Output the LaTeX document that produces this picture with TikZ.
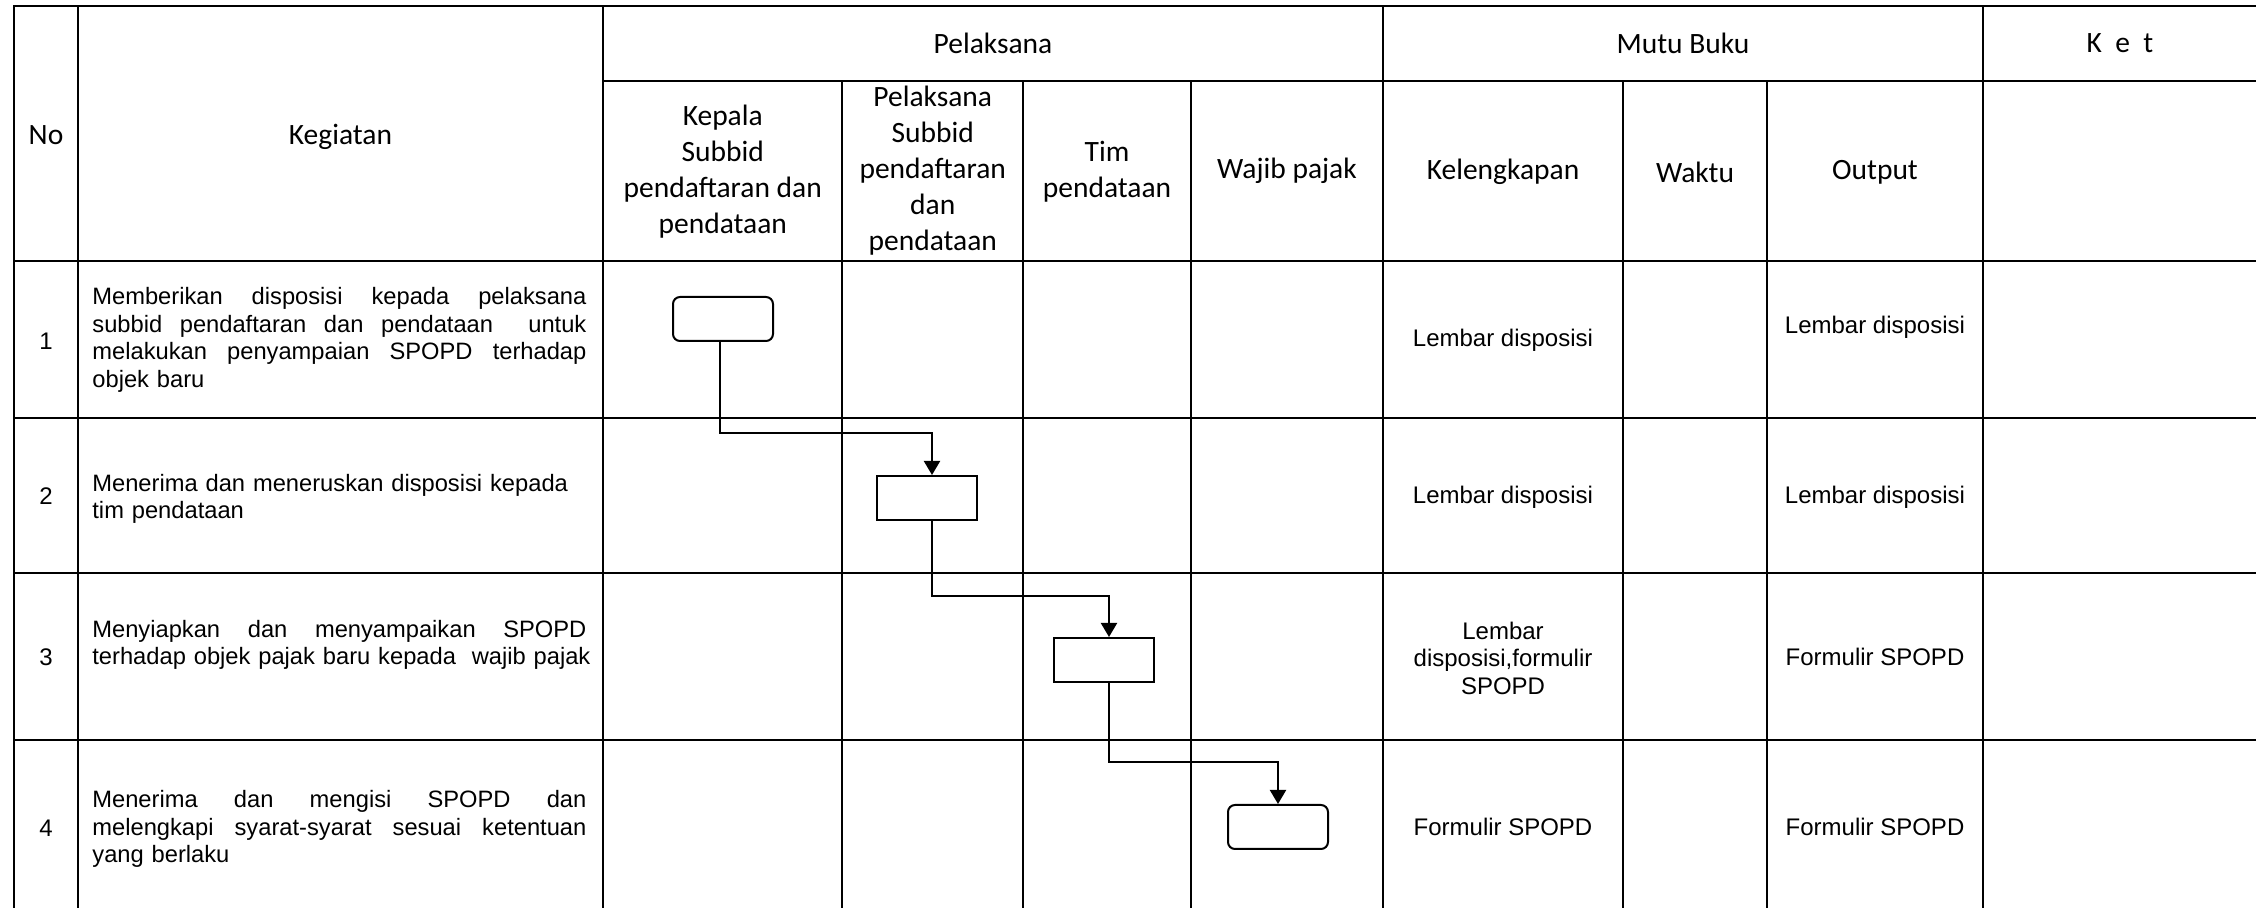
\documentclass[tikz,border=0pt]{standalone}
\usepackage{fontspec}
\setmainfont{Liberation Sans}
\newfontfamily\hdrfont{Carlito}
\usetikzlibrary{arrows.meta}
\newcommand\jline[1]{\leavevmode\hbox to 247pt{\spaceskip=0.278em plus 1fil\relax #1}}
\begin{document}
\begin{tikzpicture}[x=0.5pt,y=-0.5pt,
  grid/.style={line width=1.2pt, line cap=rect},
  hdr/.style={font=\hdrfont\fontsize{14.75}{18}\selectfont, align=center, inner sep=0pt},
  cell/.style={font=\fontsize{12}{13.75}\selectfont, align=center, inner sep=0pt},
  act/.style={font=\fontsize{11.85}{13.75}\selectfont, align=left, text width=266pt, anchor=west, inner sep=0pt},
  procbox/.style={draw, line width=1pt, minimum width=50pt, minimum height=22pt, inner sep=0pt},
  termbox/.style={procbox, rounded corners=3.5pt},
  flow/.style={line width=1pt, -{Triangle[width=8pt,length=7pt]}}
]
\useasboundingbox (0,0) rectangle (2256,908);
\fill[white] (0,0) rectangle (2256,908);

% ---- table grid ----
\foreach \y in {6,261,418,573,740,918} \draw[grid] (14,\y) -- (2262,\y);
\draw[grid] (603,81) -- (2262,81);
\foreach \x in {14,78,603,1383,1983,2260} \draw[grid] (\x,6) -- (\x,918);
\foreach \x in {842,1023,1191,1623,1767} \draw[grid] (\x,81) -- (\x,918);

% ---- headers ----
\node[hdr] (hno) at (46,135) {No};
\node[hdr] (hkeg) at (340.5,137) {Kegiatan};
\node[hdr] (hpel) at (993,43.5) {Pelaksana};
\node[hdr] (hmutu) at (1683,43.5) {Mutu Buku};
\node[hdr] (hket) at (2120,43.5) {K\ \ e\ \ t};
\node[hdr] (hkep) at (722.75,172) {Kepala\\Subbid\\pendaftaran dan\\pendataan};
\node[hdr] (hpsub) at (932.75,171) {Pelaksana\\Subbid\\pendaftaran\\dan\\pendataan};
\node[hdr] (htim) at (1107,172) {Tim\\pendataan};
\node[hdr] (hwp) at (1287,171) {Wajib pajak};
\node[hdr] (hkel) at (1503,172) {Kelengkapan};
\node[hdr] (hwkt) at (1695,172) {Waktu};
\node[hdr] (hout) at (1875,172) {Output};

% ---- numbers ----
\node[cell] (n1) at (46,341) {1};
\node[cell] (n2) at (46,496) {2};
\node[cell] (n3) at (46,657) {3};
\node[cell] (n4) at (46,828) {4};

% ---- activities ----
\node[act] (a1) at (92,340) {\jline{Memberikan disposisi kepada pelaksana}\\
  \jline{subbid pendaftaran dan pendataan\ \ untuk}\\
  \jline{melakukan penyampaian SPOPD terhadap}\\
  objek baru};
\node[act] (a2) at (92,499) {Menerima dan meneruskan disposisi kepada\\tim pendataan};
\node[act] (a3) at (92,645) {\jline{Menyiapkan dan menyampaikan SPOPD}\\
  terhadap objek pajak baru kepada\ \ wajib pajak};
\node[act] (a4) at (92,829) {\jline{Menerima dan mengisi SPOPD dan}\\
  \jline{melengkapi syarat-syarat sesuai ketentuan}\\
  yang berlaku};

% ---- mutu buku ----
\node[cell] (k1) at (1503,340) {Lembar disposisi};
\node[cell] (o1) at (1875,327) {Lembar disposisi};
\node[cell] (k2) at (1503,497) {Lembar disposisi};
\node[cell] (o2) at (1875,497) {Lembar disposisi};
\node[cell] (k3) at (1503,658) {Lembar\\disposisi,formulir\\SPOPD};
\node[cell] (o3) at (1875,657) {Formulir SPOPD};
\node[cell] (k4) at (1503,827) {Formulir SPOPD};
\node[cell] (o4) at (1875,827) {Formulir SPOPD};

% ---- flow boxes ----
\node[termbox] (b1) at (723,319) {};
\node[procbox] (b2) at (927,498) {};
\node[procbox] (b3) at (1104,660) {};
\node[termbox] (b4) at (1278,827) {};

\draw[flow] ([xshift=-1.5pt]b1.south) -- ++(0,91) -| ([xshift=2.5pt]b2.north);
\draw[flow] ([xshift=2.5pt]b2.south) -- ++(0,75) -| ([xshift=2.5pt]b3.north);
\draw[flow] ([xshift=2.5pt]b3.south) -- ++(0,79) -| (b4.north);
\end{tikzpicture}
\end{document}
